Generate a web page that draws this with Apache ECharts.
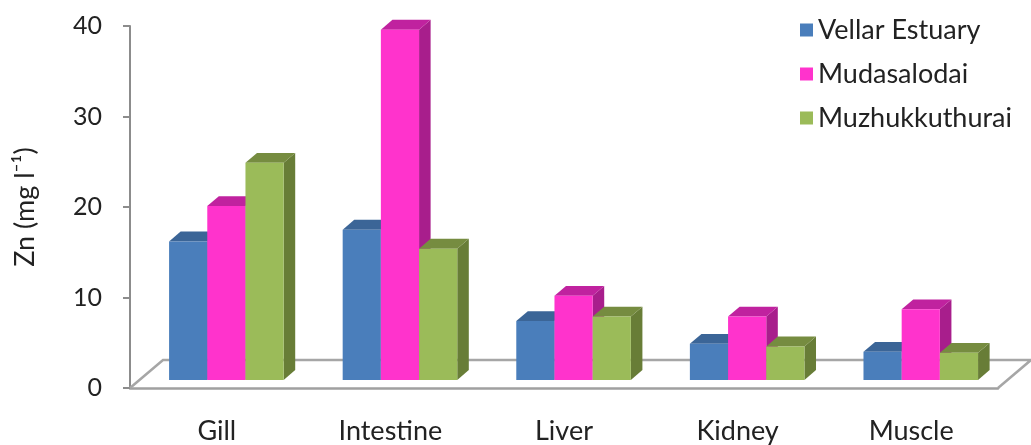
<!DOCTYPE html>
<html>
<head>
<meta charset="utf-8">
<script src="https://cdn.jsdelivr.net/npm/echarts@6/dist/echarts.min.js"></script>
<style>
  html, body { margin: 0; padding: 0; background: #ffffff; }
  #chart { width: 1031px; height: 445px; }
</style>
</head>
<body>
<div id="chart"></div>
<script>
// Zn concentration by tissue at three sites
const categories = ['Gill', 'Intestine', 'Liver', 'Kidney', 'Muscle'];
const seriesNames = ['Vellar Estuary', 'Mudasalodai', 'Muzhukkuthurai'];
const vellarEstuary = [15.3, 16.6, 6.5, 4.0, 3.1];
const mudasalodai = [19.2, 38.7, 9.3, 7.0, 7.8];
const muzhukkuthurai = [24.0, 14.5, 7.0, 3.7, 3.0];
const valueTicks = [0, 10, 20, 30, 40];

// shading for each column: front face, top face, right-hand side face
const faceColours = [
  { front: '#4a7ebb', top: '#3b6597', side: '#335b88' },
  { front: '#ff33cc', top: '#c0229f', side: '#a81e8c' },
  { front: '#9bbb59', top: '#768c40', side: '#687d37' }
];

// oblique projection of the floor depth, and the slice of that depth the columns stand in
const FLOOR_DX = 33, FLOOR_DY = -28;
const COL_FRONT = 0.29, COL_BACK = 0.64;
const COL_FRAC = 0.22; // one column's width as a share of the category band
const FONT = 'Lato';

function columnRenderer(sIdx) {
  return function (params, api) {
    const cat = api.value(0);
    const val = api.value(1);
    const base = api.coord([cat, 0]);
    const head = api.coord([cat, val]);
    const band = api.size([1, 0])[0];
    const w = band * COL_FRAC;
    const fx = FLOOR_DX * COL_FRONT, fy = FLOOR_DY * COL_FRONT;
    const dx = FLOOR_DX * (COL_BACK - COL_FRONT), dy = FLOOR_DY * (COL_BACK - COL_FRONT);
    const x0 = base[0] + fx + (sIdx - 1.5) * w;
    const x1 = x0 + w;
    const yb = base[1] + fy;
    const yt = head[1] + fy;
    const c = faceColours[sIdx];
    return {
      type: 'group',
      children: [
        { type: 'polygon', shape: { points: [[x1, yt], [x1 + dx, yt + dy], [x1 + dx, yb + dy], [x1, yb]] }, style: { fill: c.side } },
        { type: 'polygon', shape: { points: [[x0, yt], [x0 + dx, yt + dy], [x1 + dx, yt + dy], [x1, yt]] }, style: { fill: c.top } },
        { type: 'rect', shape: { x: x0, y: yt, width: w, height: yb - yt }, style: { fill: c.front } }
      ]
    };
  };
}

// outline of the floor the columns stand on
function floorRenderer(params, api) {
  const band = api.size([1, 0])[0];
  const p0 = api.coord([0, 0]);
  const left = p0[0] - band / 2;
  const right = left + band * categories.length;
  const y = p0[1];
  return {
    type: 'polyline',
    shape: { points: [[left, y], [left + FLOOR_DX, y + FLOOR_DY], [right + FLOOR_DX, y + FLOOR_DY], [right, y]] },
    style: { stroke: '#a6a6a6', lineWidth: 2.5, fill: null }
  };
}

const seriesValues = [vellarEstuary, mudasalodai, muzhukkuthurai];

const chart = echarts.init(document.getElementById('chart'), null, { renderer: 'canvas' });
chart.setOption({
  animation: false,
  backgroundColor: '#ffffff',
  grid: { left: 130, right: 33, top: 26, bottom: 55, containLabel: false },
  legend: {
    data: seriesNames,
    orient: 'vertical',
    left: 795,
    top: 11,
    icon: 'rect',
    itemWidth: 13,
    itemHeight: 13,
    itemGap: 16,
    textStyle: { fontFamily: FONT, fontSize: 27, color: '#222', lineHeight: 28, padding: [0, 0, 0, 0] }
  },
  xAxis: {
    type: 'category',
    data: categories,
    axisLine: { lineStyle: { color: '#a0a0a0', width: 2.5 } },
    axisTick: { length: 9, lineStyle: { color: '#8c8c8c', width: 2 } },
    axisLabel: { fontFamily: FONT, fontSize: 27, color: '#222', margin: 30 }
  },
  yAxis: {
    type: 'value',
    min: valueTicks[0],
    max: valueTicks[valueTicks.length - 1],
    interval: valueTicks[1] - valueTicks[0],
    name: 'Zn (mg l⁻¹)',
    nameLocation: 'middle',
    nameRotate: 90,
    nameGap: 91,
    nameTextStyle: { fontFamily: FONT, fontSize: 27, color: '#222' },
    axisLine: { show: true, lineStyle: { color: '#8c8c8c', width: 2 } },
    axisTick: { show: true, length: 7, lineStyle: { color: '#8c8c8c', width: 2 } },
    splitLine: { show: false },
    axisLabel: { fontFamily: FONT, fontSize: 25, color: '#222', margin: 28 }
  },
  series: [
    {
      name: 'floor',
      type: 'custom',
      silent: true,
      z: 1,
      data: [[0, 0]],
      encode: { x: 0, y: 1 },
      renderItem: floorRenderer
    }
  ].concat(seriesNames.map((name, sIdx) => ({
    name: name,
    type: 'custom',
    z: 2 + sIdx,
    itemStyle: { color: faceColours[sIdx].front },
    data: seriesValues[sIdx].map((v, i) => [i, v]),
    encode: { x: 0, y: 1 },
    renderItem: columnRenderer(sIdx)
  })))
});
</script>
</body>
</html>
